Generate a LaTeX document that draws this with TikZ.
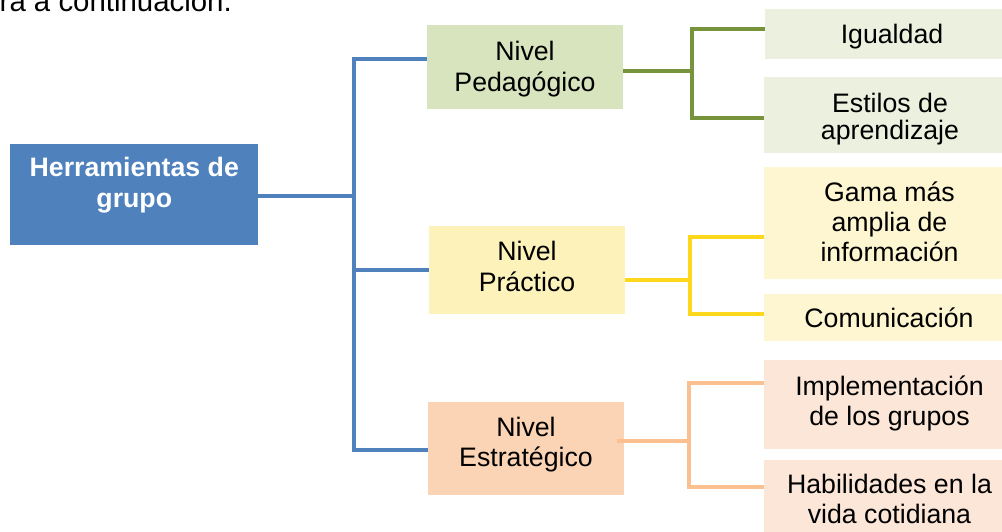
\documentclass[tikz,border=0pt]{standalone}
\usepackage{fontspec}
\setmainfont{Liberation Sans}
\usetikzlibrary{calc}

\definecolor{mainblue}{HTML}{4F81BD}
\definecolor{pedfill}{HTML}{D7E4BD}
\definecolor{pedleaf}{HTML}{EBF1DE}
\definecolor{pedline}{HTML}{77933C}
\definecolor{pracfill}{HTML}{FDF2BA}
\definecolor{pracleaf}{HTML}{FEF6D0}
\definecolor{pracline}{HTML}{FCD71C}
\definecolor{stratfill}{HTML}{FAD4B4}
\definecolor{stratleaf}{HTML}{FBE6D8}
\definecolor{stratline}{HTML}{FAC090}

\begin{document}
\begin{tikzpicture}[x=1pt,y=-1pt,
  box/.style={rectangle, draw=none, inner sep=0pt, outer sep=0pt},
  % multi-line labels are placed by the baseline of their last line
  txt/.style={inner sep=0pt, outer sep=0pt, align=center, anchor=base,
              font=\fontsize{26.7}{31}\selectfont},
  link/.style={line width=4pt, line join=miter},
]
\useasboundingbox (0,0) rectangle (1002,531);
\clip (0,0) rectangle (1002,531);

% running text above the chart
\node[inner sep=0pt, anchor=base east, font=\fontsize{29.4}{34}\selectfont]
  (intro) at (232,11.5) {ra a continuación.};

% root
\node[box, fill=mainblue, minimum width=248pt, minimum height=101.5pt] (main) at (134,194.25) {};

% levels
\node[box, fill=pedfill,   minimum width=196pt, minimum height=84pt] (ped)   at (525,67) {};
\node[box, fill=pracfill,  minimum width=196pt, minimum height=88pt] (prac)  at (527,270) {};
\node[box, fill=stratfill, minimum width=196pt, minimum height=93pt] (strat) at (526,448.5) {};

% leaves
\node[box, fill=pedleaf,   minimum width=250pt, minimum height=49.5pt] (igu)  at (890,33.75) {};
\node[box, fill=pedleaf,   minimum width=251pt, minimum height=76pt]   (est)  at (889.5,115) {};
\node[box, fill=pracleaf,  minimum width=251pt, minimum height=112pt]  (gama) at (889.5,223) {};
\node[box, fill=pracleaf,  minimum width=251pt, minimum height=47pt]   (com)  at (889.5,317.5) {};
\node[box, fill=stratleaf, minimum width=251pt, minimum height=89pt]   (impl) at (889.5,404.5) {};
\node[box, fill=stratleaf, minimum width=251pt, minimum height=85pt]   (hab)  at (889.5,502.5) {};

% blue bus from the root to the levels
\coordinate (bus) at (354,196);
\coordinate (bt)  at (354,59);
\coordinate (bm)  at (354,270);
\coordinate (bb)  at (354,450);
\draw[link, mainblue] (main.east |- bus) -- (bus);
\draw[link, mainblue] (ped.west |- bt) -- (bt) -- (bb) -- (strat.west |- bb);
\draw[link, mainblue] (bm) -- (prac.west |- bm);

% green bracket
\coordinate (gm) at (692,70.5);
\coordinate (gt) at (692,28.5);
\coordinate (gb) at (692,117.5);
\draw[link, pedline] (ped.east |- gm) -- (gm);
\draw[link, pedline] (igu.west |- gt) -- (gt) -- (gb) -- (est.west |- gb);

% yellow bracket
\coordinate (ym) at (690,280);
\coordinate (yt) at (690,237);
\coordinate (yb) at (690,314);
\draw[link, pracline] (prac.east |- ym) -- (ym);
\draw[link, pracline] (gama.west |- yt) -- (yt) -- (yb) -- (com.west |- yb);

% orange bracket
\coordinate (om) at (689,441);
\coordinate (ot) at (689,383);
\coordinate (ob) at (689,487);
\draw[link, stratline] ($(strat.east |- om)+(-7,0)$) -- (om);
\draw[link, stratline] (impl.west |- ot) -- (ot) -- (ob) -- (hab.west |- ob);

% labels
\node[txt, text=white, font=\fontsize{26.7}{30.6}\selectfont\bfseries]
  (t-main) at (134.3,207.3) {Herramientas de\\grupo};
\node[txt] (t-ped)   at (525,91.7)  {Nivel\\Pedagógico};
\node[txt] (t-prac)  at (527,291.7) {Nivel\\Práctico};
\node[txt, font=\fontsize{26.7}{30}\selectfont] (t-strat) at (526,466.7) {Nivel\\Estratégico};

\node[txt] (t-igu) at (892,43.3) {Igualdad};
\begin{scope}
  \clip (760,77) rectangle (1015,144);
  \node[txt, font=\fontsize{26.7}{26.6}\selectfont] (t-est) at (890,139.3) {Estilos de\\aprendizaje};
\end{scope}
\node[txt, font=\fontsize{26.7}{30}\selectfont]   (t-gama) at (889.5,261.7) {Gama más\\amplia de\\información};
\node[txt] (t-com)  at (889,327.7) {Comunicación};
\node[txt, font=\fontsize{26.7}{30.7}\selectfont] (t-impl) at (889.5,425.7) {Implementación\\de los grupos};
\node[txt, font=\fontsize{26.7}{30}\selectfont]   (t-hab)  at (889.5,523) {Habilidades en la\\vida cotidiana};
\end{tikzpicture}
\end{document}
